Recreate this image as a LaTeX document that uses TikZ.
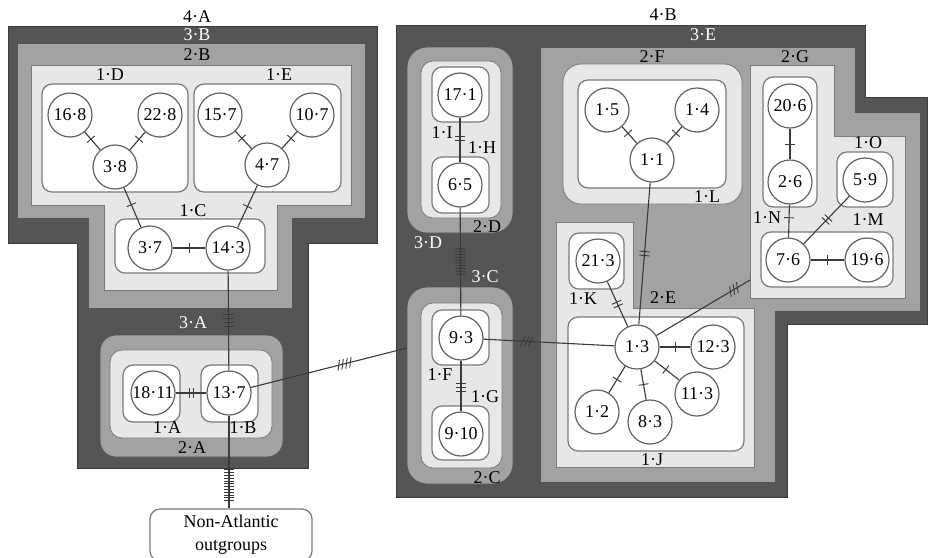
\documentclass[tikz,border=0pt]{standalone}
\usepackage{fontspec}
\setmainfont{Liberation Serif}
\usetikzlibrary{decorations.markings}
\definecolor{cDark}{HTML}{555555}
\definecolor{cMid}{HTML}{A2A2A2}
\definecolor{cLight}{HTML}{E7E7E7}
\definecolor{cEdge}{HTML}{7A7A7A}
\definecolor{cLine}{HTML}{3A3A3A}
\tikzset{
    x=1pt, y=-1pt, font=\fontsize{18}{20}\selectfont,
    lvlthree/.style={draw=cDark!70!black, line width=0.8pt, fill=cDark},
    lvltwo/.style={draw=cDark, line width=0.8pt, fill=cMid},
    lvlone/.style={draw=cEdge, line width=0.8pt, fill=cLight},
    clade/.style={draw=cEdge, line width=1.2pt, fill=white, rounded corners=10pt},
    hap/.style={circle, draw=cEdge!80!black, line width=1.2pt, fill=white,
                minimum size=44pt, inner sep=0pt},
    link/.style={draw=cLine, line width=1.1pt},
    tk/.style={draw=cLine, line width=0.9pt},
    ticks/.style 2 args={postaction={decorate, decoration={markings,
        mark=at position #2 with {\foreach \k in {1,...,#1}
            {\draw[tk] ({(\k-(#1+1)/2)*((#1>6)*2.8+(#1<7)*4)},-5) -- ++(0,10);}}}}},
    slticks/.style 2 args={postaction={decorate, decoration={markings,
        mark=at position #2 with {\foreach \k in {1,...,#1}
            {\draw[tk] ({(\k-(#1+1)/2)*4+2},-5) -- ++(-4,10);}}}}},
    lbl/.style={inner sep=1pt},
    wlbl/.style={inner sep=1pt, text=white},
}
\newcommand{\nestedclades}{%
    % left network
    \draw[lvlthree] (8,26) -- (377,26) -- (377,243) -- (308,243) -- (308,468)
        -- (77,468) -- (77,243) -- (8,243) -- cycle;
    \draw[lvltwo] (17,43) -- (365,43) -- (365,218) -- (292,218) -- (292,308)
        -- (88,308) -- (88,218) -- (17,218) -- cycle;
    \draw[lvlone] (31,65) -- (351,65) -- (351,205) -- (277,205) -- (277,290)
        -- (104,290) -- (104,205) -- (31,205) -- cycle;
    \draw[lvltwo, rounded corners=16pt] (100,335) rectangle (283,457);
    \draw[lvlone, rounded corners=12pt] (110,350) rectangle (272,438);
    % right network
    \draw[lvlthree] (396,25) -- (865,25) -- (865,97) -- (927,97) -- (927,324)
        -- (787,324) -- (787,497) -- (396,497) -- cycle;
    \draw[lvltwo] (540,47) -- (855,47) -- (855,112) -- (920,112) -- (920,311)
        -- (775,311) -- (775,482) -- (540,482) -- cycle;
    \draw[lvltwo, rounded corners=20pt] (407,47) rectangle (513,233);
    \draw[lvltwo, rounded corners=20pt] (407,287) rectangle (513,484);
    \draw[lvlone, rounded corners=12pt] (421,61) rectangle (501,218);
    \draw[lvlone, rounded corners=12pt] (421,303) rectangle (502,468);
    \draw[lvlone, rounded corners=18pt] (563,64) rectangle (742,204);
    \draw[lvlone] (750,65) -- (834,65) -- (834,136) -- (905,136) -- (905,298)
        -- (750,298) -- cycle;
    \draw[lvlone] (556,222) -- (633,222) -- (633,308) -- (754,308) -- (754,467)
        -- (556,467) -- cycle;
}

\begin{document}
\begin{tikzpicture}
    \useasboundingbox (0,0) rectangle (928,557);
    \nestedclades

    % one-step clades
    \draw[clade] (42,84) rectangle (188,192);
    \draw[clade] (194,84) rectangle (341,192);
    \draw[clade] (115,219) rectangle (265,273);
    \draw[clade] (123,365) rectangle (180,422);
    \draw[clade] (201,365) rectangle (258,422);
    \draw[clade] (432,67) rectangle (489,122);
    \draw[clade] (432,157) rectangle (489,213);
    \draw[clade] (432,310) rectangle (489,365);
    \draw[clade] (432,406) rectangle (489,460);
    \draw[clade] (578,80) rectangle (726,188);
    \draw[clade] (763,77) rectangle (817,207);
    \draw[clade] (837,152) rectangle (893,207);
    \draw[clade] (761,232) rectangle (893,287);
    \draw[clade] (569,233) rectangle (624,289);
    \draw[clade] (568,317) rectangle (744,451);

    \node[hap] (h168) at (70,115) {16·8};
    \node[hap] (h228) at (160,115) {22·8};
    \node[hap] (h38) at (115,167) {3·8};
    \node[hap] (h157) at (220,115) {15·7};
    \node[hap] (h107) at (312,115) {10·7};
    \node[hap] (h47) at (267,165) {4·7};
    \node[hap] (h37) at (150,248) {3·7};
    \node[hap] (h143) at (228,248) {14·3};
    \node[hap] (h1811) at (153,393) {18·11};
    \node[hap] (h137) at (229,393) {13·7};
    \node[hap] (h171) at (460,95) {17·1};
    \node[hap] (h65) at (460,185) {6·5};
    \node[hap] (h93) at (461,338) {9·3};
    \node[hap] (h910) at (461,434) {9·10};
    \node[hap] (h15) at (607,110) {1·5};
    \node[hap] (h14) at (697,110) {1·4};
    \node[hap] (h11) at (652,160) {1·1};
    \node[hap] (h206) at (790,106) {20·6};
    \node[hap] (h26) at (790,182) {2·6};
    \node[hap] (h59) at (865,180) {5·9};
    \node[hap] (h76) at (788,260) {7·6};
    \node[hap] (h196) at (867,260) {19·6};
    \node[hap] (h213) at (598,261) {21·3};
    \node[hap] (h13) at (637,347) {1·3};
    \node[hap] (h123) at (713,347) {12·3};
    \node[hap] (h113) at (697,394) {11·3};
    \node[hap] (h83) at (650,422) {8·3};
    \node[hap] (h12) at (597,412) {1·2};
    \node[clade, align=center, minimum width=162pt, minimum height=52pt,
          font=\fontsize{18}{23}\selectfont] (out) at (231,535)
        {Non-Atlantic\\outgroups};

    % links between higher clades end on the clade border
    \coordinate (j3C) at (407,348);
    \coordinate (j2G) at (750,280);

    \draw[link, ticks={1}{0.4}] (h168) -- (h38);
    \draw[link, ticks={1}{0.4}] (h228) -- (h38);
    \draw[link, ticks={1}{0.4}] (h157) -- (h47);
    \draw[link, ticks={1}{0.4}] (h107) -- (h47);
    \draw[link, ticks={1}{0.43}] (h38) -- (h37);
    \draw[link, ticks={1}{0.5}] (h47) -- (h143);
    \draw[link, ticks={1}{0.5}] (h37) -- (h143);
    \draw[link, ticks={4}{0.5}] (h143) -- (h137);
    \draw[link, ticks={2}{0.5}] (h1811) -- (h137);
    \draw[link, ticks={12}{0.75}] (h137) -- (h137 |- out.north);
    \draw[link, slticks={4}{0.6}] (h137) -- (j3C);

    \draw[link, ticks={2}{0.46}] (h171) -- (h65);
    \draw[link, ticks={10}{0.5}] (h65) -- (h93);
    \draw[link, ticks={3}{0.52}] (h93) -- (h910);
    \draw[link, slticks={3}{0.33}] (h93) -- (h13);
    \draw[link, ticks={1}{0.4}] (h15) -- (h11);
    \draw[link, ticks={1}{0.4}] (h14) -- (h11);
    \draw[link, ticks={2}{0.5}] (h13) -- (h11);
    \draw[link, ticks={2}{0.5}] (h213) -- (h13);
    \draw[link, slticks={3}{0.83}] (h13) -- (j2G);
    \draw[link, ticks={1}{0.5}] (h13) -- (h123);
    \draw[link, ticks={1}{0.45}] (h13) -- (h113);
    \draw[link, ticks={1}{0.5}] (h13) -- (h83);
    \draw[link, ticks={1}{0.5}] (h13) -- (h12);
    \draw[link, ticks={1}{0.5}] (h206) -- (h26);
    \draw[link, ticks={1}{0.4}] (h26) -- (h76);
    \draw[link, ticks={2}{0.49}] (h59) -- (h76);
    \draw[link, ticks={1}{0.5}] (h76) -- (h196);

    \node[lbl] (l4A) at (197,17) {4·A};
    \node[wlbl] (l3B) at (197,35) {3·B};
    \node[lbl] (l2B) at (197,55) {2·B};
    \node[lbl] (l1D) at (110,75) {1·D};
    \node[lbl] (l1E) at (279,75) {1·E};
    \node[lbl] (l1C) at (193,211) {1·C};
    \node[wlbl] (l3A) at (193,323) {3·A};
    \node[lbl] (l1A) at (167,428) {1·A};
    \node[lbl] (l1B) at (243,428) {1·B};
    \node[lbl] (l2A) at (192,448) {2·A};
    \node[lbl] (l4B) at (663,15) {4·B};
    \node[wlbl] (l3E) at (703,35) {3·E};
    \node[lbl] (l2F) at (652,57) {2·F};
    \node[lbl] (l2G) at (795,57) {2·G};
    \node[lbl] (l1L) at (707,197) {1·L};
    \node[lbl] (l1O) at (868,143) {1·O};
    \node[lbl] (l1N) at (767,218) {1·N};
    \node[lbl] (l1M) at (868,220) {1·M};
    \node[lbl] (l1K) at (583,299) {1·K};
    \node[lbl] (l2E) at (663,298) {2·E};
    \node[lbl] (l1J) at (652,460) {1·J};
    \node[lbl] (l1I) at (442,133) {1·I};
    \node[lbl] (l1H) at (482,148) {1·H};
    \node[lbl] (l2D) at (487,227) {2·D};
    \node[wlbl] (l3D) at (428,243) {3·D};
    \node[wlbl] (l3C) at (485,277) {3·C};
    \node[lbl] (l1F) at (440,375) {1·F};
    \node[lbl] (l1G) at (485,397) {1·G};
    \node[lbl] (l2C) at (487,478) {2·C};
\end{tikzpicture}
\end{document}
